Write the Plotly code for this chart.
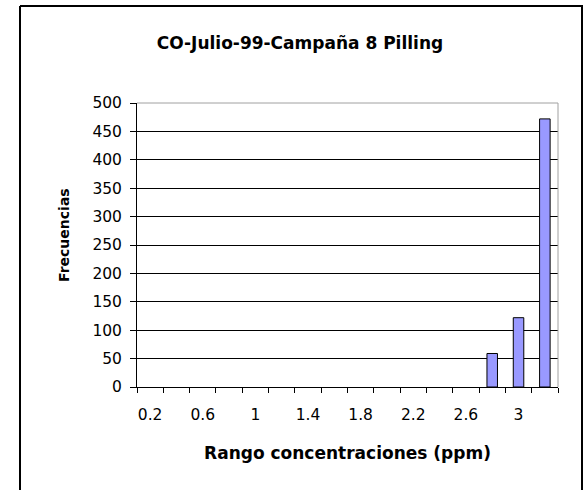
import plotly.graph_objects as go

# histogram bins (ppm) and frequencies
bins = [0.2, 0.4, 0.6, 0.8, 1.0, 1.2, 1.4, 1.6, 1.8, 2.0, 2.2, 2.4, 2.6, 2.8, 3.0, 3.2]
freq = [0, 0, 0, 0, 0, 0, 0, 0, 0, 0, 0, 0, 0, 59, 122, 472]
label_vals = [0.2, 0.6, 1.0, 1.4, 1.8, 2.2, 2.6, 3.0]
label_text = ["0.2", "0.6", "1", "1.4", "1.8", "2.2", "2.6", "3"]

W, H = 585, 490
L, T = 137, 103
R, B = W - 558, H - 387
pw, ph = W - L - R, H - T - B


def px_x(v):
    return (v - L) / pw


def px_y(v):
    return (H - B - v) / ph


FONT = "'DejaVu Sans', Verdana, sans-serif"


def frame_line(x0, y0, x1, y1, color="black", width=2):
    return dict(type="line", xref="paper", yref="paper",
                x0=px_x(x0), x1=px_x(x1), y0=px_y(y0), y1=px_y(y1),
                line=dict(color=color, width=width), layer="above")


fig = go.Figure(
    go.Bar(
        x=bins,
        y=[v if v else None for v in freq],
        marker=dict(color="#9999ff", line=dict(color="black", width=1)),
        hoverinfo="x+y",
    )
)

fig.update_layout(
    width=W,
    height=H,
    margin=dict(l=L, r=R, t=T, b=B),
    paper_bgcolor="white",
    plot_bgcolor="white",
    bargap=0.6,
    showlegend=False,
    font=dict(family=FONT, color="black", size=15),
    title=dict(
        text="<b>CO-Julio-99-Campaña 8 Pilling</b>",
        x=300 / W,
        xanchor="center",
        y=1 - 43 / H,
        yanchor="middle",
        font=dict(size=17, family=FONT, color="black"),
    ),
    annotations=[
        dict(text="<b>Frecuencias</b>", textangle=-90, showarrow=False,
             xref="paper", yref="paper", x=px_x(64), y=px_y(235),
             xanchor="center", yanchor="middle", font=dict(size=14)),
    ],
    shapes=[
        # outer chart frame
        frame_line(20, 6, 583, 6),
        frame_line(20, 6, 20, 490),
        frame_line(582, 6, 582, 490),
        # plot area border (top/right grey)
        dict(type="line", xref="paper", yref="paper", x0=0, x1=1, y0=1, y1=1,
             line=dict(color="#a0a0a0", width=1)),
        dict(type="line", xref="paper", yref="paper", x0=1, x1=1, y0=0, y1=1,
             line=dict(color="#a0a0a0", width=1)),
    ],
)

fig.update_xaxes(
    range=[0.1, 3.3],
    tickvals=label_vals,
    ticktext=label_text,
    ticks="outside",
    ticklen=13,
    tickcolor="rgba(0,0,0,0)",
    minor=dict(tick0=0.1, dtick=0.2, ticks="outside", ticklen=5, tickcolor="black", showgrid=False),
    showgrid=False,
    showline=True,
    linecolor="black",
    linewidth=1,
    zeroline=False,
    tickfont=dict(size=15.5),
    title=dict(text="<b>Rango concentraciones (ppm)</b>", font=dict(size=17), standoff=24),
)
fig.update_yaxes(
    range=[0, 500],
    dtick=50,
    ticks="outside",
    ticklen=6,
    tickcolor="black",
    ticksuffix=" ",
    showgrid=True,
    gridcolor="black",
    gridwidth=1,
    showline=True,
    linecolor="black",
    linewidth=1,
    zeroline=False,
    tickfont=dict(size=15.5),
)

# drop the default 8px body margin so the figure sits at the window origin
fig.write_html(
    "out.html",
    config={"displayModeBar": False},
    post_script="document.body.style.margin='0';document.body.style.overflow='hidden';",
)
